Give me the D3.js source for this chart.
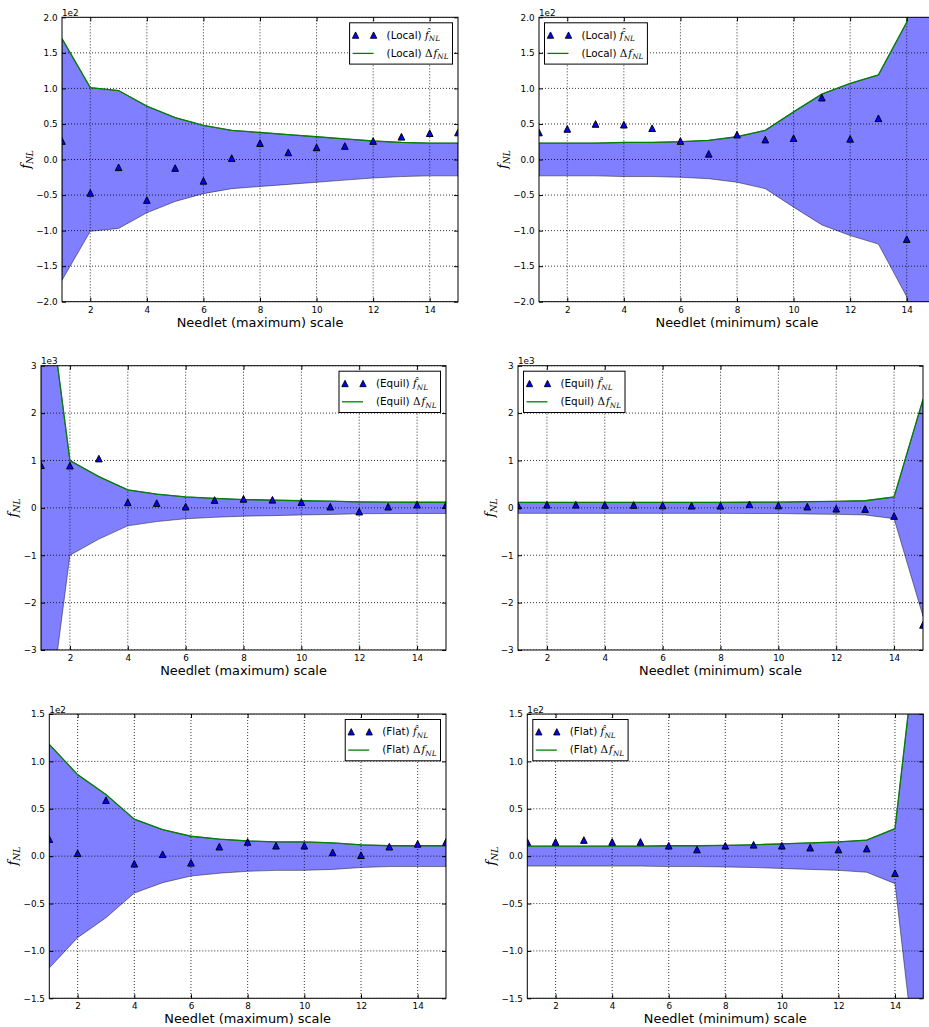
<!DOCTYPE html>
<html>
<head>
<meta charset="utf-8">
<script src="https://cdn.jsdelivr.net/npm/d3@7"></script>
<style>
    body { margin: 0; background: #fff; }
    svg { display: block; font-family: "DejaVu Sans", sans-serif; }
    .math { font-family: "DejaVu Serif", serif; }
</style>
</head>
<body>
<svg id="chart" width="929" height="1027"></svg>
<script>
const needletScales = [ 1, 2, 3, 4, 5, 6, 7, 8, 9, 10, 11, 12, 13, 14, 15 ];
const xTickValues = [ 2, 4, 6, 8, 10, 12, 14 ];

const localTicks = [ -200, -150, -100, -50, 0, 50, 100, 150, 200 ];
const equilTicks = [ -3000, -2000, -1000, 0, 1000, 2000, 3000 ];
const flatTicks = [ -150, -100, -50, 0, 50, 100, 150 ];

// estimated fNL and its error per needlet scale (null = outside the picture)
const localMaxFhat = [ 26, -47, -11, -57, -12, -30, 2, 23, 10, 17, 19, 26, 32, 37, 38 ];
const localMaxDelta = [ 170, 101, 97, 75, 59, 48, 41, 38, 35, 32, 29, 26, 24, 23, 23 ];
const localMinFhat = [ 38, 43, 50, 49, 44, 26, 8, 35, 28, 30, 87, 29, 58, -112, null ];
const localMinDelta = [ 23, 23, 23, 24, 24, 25, 27, 32, 41, 67, 92, 107, 119, 193, 600 ];

const equilMaxFhat = [ 900, 890, 1040, 116, 100, 25, 165, 190, 170, 120, 25, -80, 25, 67, 60 ];
const equilMaxDelta = [ 5700, 1000, 660, 380, 290, 230, 200, 175, 165, 150, 140, 125, 120, 118, 118 ];
const equilMinFhat = [ 50, 65, 65, 60, 60, 50, 45, 45, 75, 50, 25, -18, -25, -172, -2470 ];
const equilMinDelta = [ 116, 116, 116, 116, 116, 116, 116, 116, 118, 120, 130, 137, 150, 229, 2290 ];

const flatMaxFhat = [ 18, 3, 59, -8, 2, -7, 10, 15, 11, 11, 4, 1, 10, 13, 15 ];
const flatMaxDelta = [ 118, 86, 65, 39, 28, 21, 18, 16, 15, 15, 14, 12, 11, 11, 11 ];
const flatMinFhat = [ 15, 15, 17, 15, 15, 11, 7, 11, 12, 11, 9, 7, 8, -18, null ];
const flatMinDelta = [ 10.5, 10.5, 10.5, 10.5, 10.5, 11, 11, 11.4, 12, 13, 14, 15, 17, 29, 290 ];

const panels = [
    { name: 'Local', fhat: localMaxFhat, delta: localMaxDelta, xLabel: 'Needlet (maximum) scale',
        yTicks: localTicks, exponent: 2, decimals: 1, legend: 'right',
        box: { left: 62, top: 17.3, width: 396, height: 284.4 } },
    { name: 'Local', fhat: localMinFhat, delta: localMinDelta, xLabel: 'Needlet (minimum) scale',
        yTicks: localTicks, exponent: 2, decimals: 1, legend: 'left',
        box: { left: 539, top: 17.3, width: 396, height: 284.4 } },
    { name: 'Equil', fhat: equilMaxFhat, delta: equilMaxDelta, xLabel: 'Needlet (maximum) scale',
        yTicks: equilTicks, exponent: 3, decimals: 0, legend: 'right',
        box: { left: 41, top: 365.7, width: 405, height: 284.3 } },
    { name: 'Equil', fhat: equilMinFhat, delta: equilMinDelta, xLabel: 'Needlet (minimum) scale',
        yTicks: equilTicks, exponent: 3, decimals: 0, legend: 'left',
        box: { left: 518, top: 365.7, width: 405, height: 284.3 } },
    { name: 'Flat', fhat: flatMaxFhat, delta: flatMaxDelta, xLabel: 'Needlet (maximum) scale',
        yTicks: flatTicks, exponent: 2, decimals: 1, legend: 'right',
        box: { left: 49.3, top: 714, width: 396.7, height: 284.3 } },
    { name: 'Flat', fhat: flatMinFhat, delta: flatMinDelta, xLabel: 'Needlet (minimum) scale',
        yTicks: flatTicks, exponent: 2, decimals: 1, legend: 'left',
        box: { left: 527.3, top: 714, width: 396, height: 284.3 } }
];

const TICK_FONT = 8.8;
const LEGEND_FONT = 10.4;
const LABEL_FONT = 12.9;

// matplotlib style '^' marker: as wide as it is tall
const triangleUp = {
    draw( context, size ) {
        const h = Math.sqrt( size ) / 2;
        context.moveTo( 0, -h );
        context.lineTo( h, h );
        context.lineTo( -h, h );
        context.closePath();
    }
};

function tickText( exponent, decimals ) {
    const scale = Math.pow( 10, exponent );
    return v => {
        const s = Math.abs( v / scale ).toFixed( decimals );
        return v < 0 ? '\u2212' + s : s;
    };
}

function addFnl( text, size, prefix ) {
    // f_NL in a math-like serif, with an optional hat or delta in front
    if ( prefix === 'delta' ) {
        text.append( 'tspan' ).attr( 'class', 'math' ).text( '\u0394' );
    }
    text.append( 'tspan' )
        .attr( 'class', 'math' )
        .attr( 'font-style', 'italic' )
        .attr( 'dx', prefix === 'delta' ? 1 : 0 )
        .text( prefix === 'hat' ? 'f\u0302' : 'f' );
    text.append( 'tspan' )
        .attr( 'class', 'math' )
        .attr( 'font-style', 'italic' )
        .attr( 'font-size', size * 0.7 )
        .attr( 'dy', size * 0.25 )
        .text( 'NL' );
}

function drawGrid( plot, x, y, panel, width, height ) {
    const grid = plot.append( 'g' ).attr( 'class', 'grid' );
    grid.selectAll( '.gx' ).data( xTickValues )
        .enter().append( 'line' )
        .attr( 'x1', d => x( d ) ).attr( 'x2', d => x( d ) )
        .attr( 'y1', 0 ).attr( 'y2', height );
    grid.selectAll( '.gy' ).data( panel.yTicks )
        .enter().append( 'line' )
        .attr( 'x1', 0 ).attr( 'x2', width )
        .attr( 'y1', d => y( d ) ).attr( 'y2', d => y( d ) );
    grid.selectAll( 'line' )
        .attr( 'stroke', '#000' )
        .attr( 'stroke-width', 0.8 )
        .attr( 'stroke-dasharray', '1,2' );
}

function drawAxes( g, x, y, panel, width, height ) {
    const fmt = tickText( panel.exponent, panel.decimals );

    const xAxisGroup = g.append( 'g' )
        .attr( 'transform', `translate(0,${height})` )
        .call( d3.axisBottom( x ).tickValues( xTickValues ).tickSize( -4 ).tickPadding( 4.9 ).tickFormat( d3.format( 'd' ) ) );
    const yAxisGroup = g.append( 'g' )
        .call( d3.axisLeft( y ).tickValues( panel.yTicks ).tickSize( -4 ).tickPadding( 4.4 ).tickFormat( fmt ) );
    g.append( 'g' )
        .call( d3.axisTop( x ).tickValues( xTickValues ).tickSize( -4 ).tickFormat( '' ) );
    g.append( 'g' )
        .attr( 'transform', `translate(${width},0)` )
        .call( d3.axisRight( y ).tickValues( panel.yTicks ).tickSize( -4 ).tickFormat( '' ) );

    g.selectAll( '.domain' ).remove();
    g.selectAll( '.tick line' ).attr( 'stroke', '#000' );
    g.selectAll( '.tick text' )
        .attr( 'fill', '#000' )
        .attr( 'font-family', '"DejaVu Sans", sans-serif' )
        .attr( 'font-size', TICK_FONT );

    g.append( 'rect' )
        .attr( 'width', width )
        .attr( 'height', height )
        .attr( 'fill', 'none' )
        .attr( 'stroke', '#000' )
        .attr( 'stroke-width', 1 );

    // offset text like "1e2"
    g.append( 'text' )
        .attr( 'x', 0 )
        .attr( 'y', -1.5 )
        .attr( 'font-size', TICK_FONT )
        .text( `1e${panel.exponent}` );

    g.append( 'text' )
        .attr( 'x', width / 2 )
        .attr( 'y', height + 25 )
        .attr( 'text-anchor', 'middle' )
        .attr( 'font-size', LABEL_FONT )
        .text( panel.xLabel );

    const maxLabelWidth = d3.max( yAxisGroup.selectAll( 'text' ).nodes(), n => n.getComputedTextLength() );
    const labelsLeft = -4.4 - maxLabelWidth;
    const yLabel = g.append( 'text' )
        .attr( 'transform', `translate(${labelsLeft - 6.5},${height / 2}) rotate(-90)` )
        .attr( 'text-anchor', 'middle' )
        .attr( 'font-size', LABEL_FONT );
    addFnl( yLabel, LABEL_FONT, null );

    return { xAxisGroup, yAxisGroup };
}

function drawLegend( g, panel, width ) {
    const legend = g.append( 'g' );
    const frame = legend.append( 'rect' );

    const hatText = legend.append( 'text' )
        .attr( 'x', 37 ).attr( 'y', 15.8 )
        .attr( 'font-size', LEGEND_FONT );
    hatText.append( 'tspan' ).text( `(${panel.name}) ` );
    addFnl( hatText, LEGEND_FONT, 'hat' );

    const deltaText = legend.append( 'text' )
        .attr( 'x', 37 ).attr( 'y', 33.8 )
        .attr( 'font-size', LEGEND_FONT );
    deltaText.append( 'tspan' ).text( `(${panel.name}) ` );
    addFnl( deltaText, LEGEND_FONT, 'delta' );

    legend.selectAll( '.lm' ).data( [ 6, 24 ] )
        .enter().append( 'path' )
        .attr( 'transform', d => `translate(${d},12.3)` )
        .attr( 'd', d3.symbol().type( triangleUp ).size( 40 ) )
        .attr( 'fill', '#0000ff' )
        .attr( 'stroke', '#000' )
        .attr( 'stroke-width', 0.9 );

    legend.append( 'line' )
        .attr( 'x1', 3 ).attr( 'x2', 24 )
        .attr( 'y1', 30.6 ).attr( 'y2', 30.6 )
        .attr( 'stroke', '#008000' )
        .attr( 'stroke-width', 1.3 );

    const textWidth = Math.max( hatText.node().getComputedTextLength(), deltaText.node().getComputedTextLength() );
    const boxWidth = 37 + textWidth + 5;
    frame.attr( 'width', boxWidth )
        .attr( 'height', 41.3 )
        .attr( 'fill', '#fff' )
        .attr( 'stroke', '#000' )
        .attr( 'stroke-width', 1 );

    const legendX = panel.legend === 'right' ? width - 5.5 - boxWidth : 5.5;
    legend.attr( 'transform', `translate(${legendX},5.5)` );
}

function drawPanel( svg, panel, index ) {
    const { left, top, width, height } = panel.box;
    const yMax = d3.max( panel.yTicks );

    const x = d3.scaleLinear().domain( [ 1, 15 ] ).range( [ 0, width ] );
    const y = d3.scaleLinear().domain( [ -yMax, yMax ] ).range( [ height, 0 ] );

    const g = svg.append( 'g' )
        .attr( 'transform', `translate(${left},${top})` );

    const clipId = `clip-${index}`;
    g.append( 'clipPath' ).attr( 'id', clipId )
        .append( 'rect' ).attr( 'width', width ).attr( 'height', height );

    const rows = needletScales.map( ( s, i ) => ( { s, fhat: panel.fhat[ i ], delta: panel.delta[ i ] } ) );
    const plot = g.append( 'g' ).attr( 'clip-path', `url(#${clipId})` );

    const band = d3.area()
        .x( d => x( d.s ) )
        .y0( d => y( -d.delta ) )
        .y1( d => y( d.delta ) );
    plot.append( 'path' )
        .datum( rows )
        .attr( 'd', band )
        .attr( 'fill', 'rgba(0,0,255,0.5)' )
        .attr( 'stroke', 'rgba(0,0,0,0.45)' )
        .attr( 'stroke-width', 1 );

    drawGrid( plot, x, y, panel, width, height );

    const line = d3.line().x( d => x( d.s ) ).y( d => y( d.delta ) );
    plot.append( 'path' )
        .datum( rows )
        .attr( 'd', line )
        .attr( 'fill', 'none' )
        .attr( 'stroke', '#008000' )
        .attr( 'stroke-width', 1.3 );

    plot.selectAll( '.marker' ).data( rows.filter( d => d.fhat !== null ) )
        .enter().append( 'path' )
        .attr( 'class', 'marker' )
        .attr( 'transform', d => `translate(${x( d.s )},${y( d.fhat )})` )
        .attr( 'd', d3.symbol().type( triangleUp ).size( 44 ) )
        .attr( 'fill', '#0000ff' )
        .attr( 'stroke', '#000' )
        .attr( 'stroke-width', 1 );

    drawAxes( g, x, y, panel, width, height );
    drawLegend( g, panel, width );
}

const svg = d3.select( '#chart' );
svg.append( 'rect' ).attr( 'width', 929 ).attr( 'height', 1027 ).attr( 'fill', '#fff' );
panels.forEach( ( panel, i ) => drawPanel( svg, panel, i ) );
</script>
</body>
</html>
